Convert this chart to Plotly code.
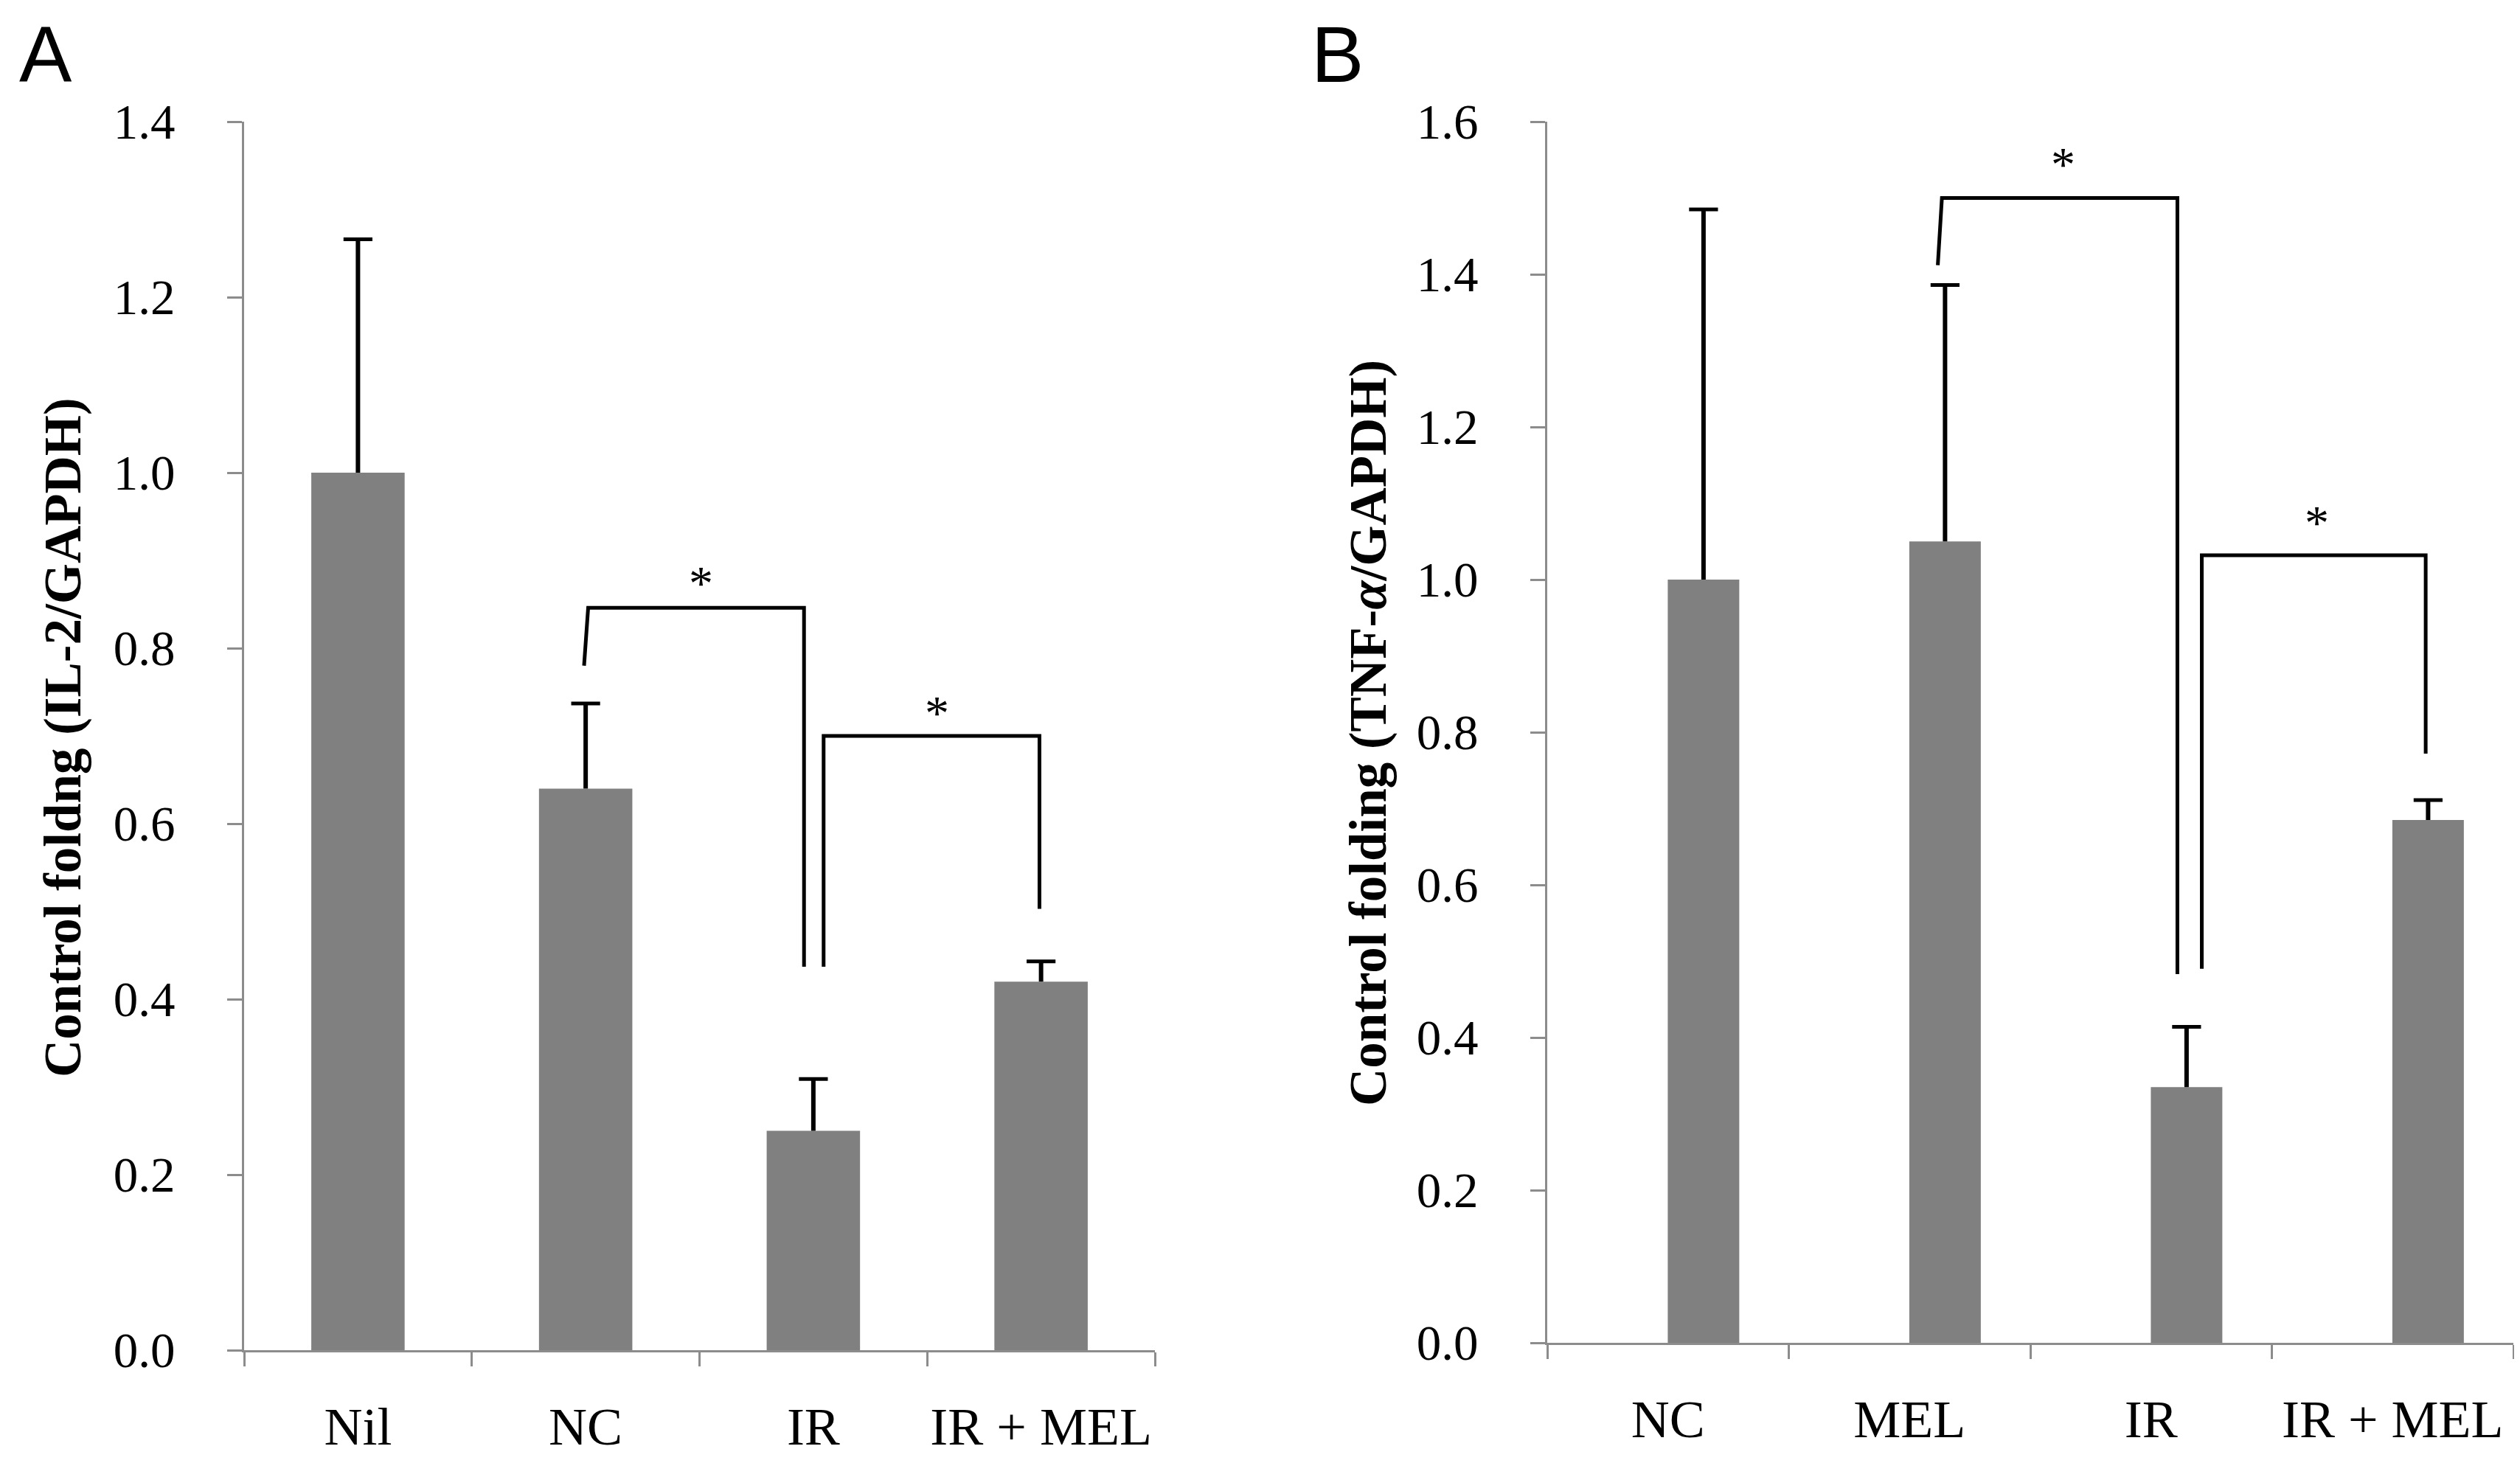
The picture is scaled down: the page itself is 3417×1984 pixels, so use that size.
import plotly.graph_objects as go

# panel A - IL-2
cats_a = ['Nil', 'NC', 'IR', 'IR + MEL']
vals_a = [1.0, 0.64, 0.25, 0.42]
err_a = [1.266, 0.737, 0.309, 0.443]      # top of error bar

# panel B - TNF-alpha
cats_b = ['NC', 'MEL', 'IR', 'IR + MEL']
vals_b = [1.0, 1.05, 0.335, 0.685]
err_b = [1.485, 1.386, 0.414, 0.711]

# significance brackets: (x left, x right, y left end, y top, y right end)
brackets_a = [(1.011, 1.959, 0.78, 0.846, 0.437),
              (2.045, 2.993, 0.437, 0.70, 0.503)]
brackets_b = [(1.134, 2.109, 1.412, 1.50, 0.483),
              (2.210, 3.137, 0.490, 1.032, 0.772)]
stars_a = [(1.506, 0.885), (2.543, 0.737)]
stars_b = [(1.637, 1.557), (2.687, 1.087)]

W, H = 3417, 1984
OFF = 8   # page body margin, positions below are measured on the screen
BAR = '#808080'
AXIS = '#8c8c8c'
SERIF = 'Liberation Serif'


def px(x):
    return (x - OFF) / W


def py(y):
    return 1 - (y - OFF) / H


fig = go.Figure()


def add_panel(fig, n, cats, vals, errs, brackets, stars, shift, width, slant):
    xa = 'x' if n == 1 else 'x%d' % n
    ya = 'y' if n == 1 else 'y%d' % n
    xs = [i + shift for i in range(len(cats))]

    fig.add_trace(go.Bar(x=xs, y=vals, width=width, marker_color=BAR,
                         marker_line_width=0, xaxis=xa, yaxis=ya,
                         showlegend=False, hoverinfo='skip'))

    # error bars, upper half only
    ex, ey = [], []
    for x, v, e in zip(xs, vals, errs):
        ex += [x, x, None]
        ey += [v, e, None]
    fig.add_trace(go.Scatter(x=ex, y=ey, mode='lines',
                             line=dict(color='black', width=6),
                             xaxis=xa, yaxis=ya, showlegend=False, hoverinfo='skip'))
    fig.add_trace(go.Scatter(x=xs, y=errs, mode='markers',
                             marker=dict(symbol='line-ew', size=28,
                                         line=dict(color='black', width=5)),
                             xaxis=xa, yaxis=ya, showlegend=False, hoverinfo='skip'))

    for k, (xl, xr, yl, yt, yr) in enumerate(brackets):
        s = slant if k == 0 else 0
        fig.add_trace(go.Scatter(x=[xl - s, xl, xr, xr], y=[yl, yt, yt, yr],
                                 mode='lines', line=dict(color='black', width=5),
                                 xaxis=xa, yaxis=ya, showlegend=False, hoverinfo='skip'))

    for sx, sy in stars:
        fig.add_annotation(x=sx, y=sy, xref=xa, yref=ya, text='*', showarrow=False,
                           font=dict(family=SERIF, size=66, color='black'),
                           yshift=-13)


add_panel(fig, 1, cats_a, vals_a, err_a, brackets_a, stars_a, 0.0, 0.41, 0.018)
add_panel(fig, 2, cats_b, vals_b, err_b, brackets_b, stars_b, 0.147, 0.296, 0.017)

xcommon = dict(range=[-0.5, 3.5], tickmode='array', tickvals=[0, 1, 2, 3],
               ticks='', showline=True, linecolor=AXIS, linewidth=3.3,
               showgrid=False, zeroline=False, ticklabelstandoff=38, automargin=False,
               tickfont=dict(family=SERIF, size=72, color='black'),
               minor=dict(tickmode='array', tickvals=[-0.5, 0.5, 1.5, 2.5, 3.5],
                          ticks='outside', ticklen=19, tickcolor=AXIS, tickwidth=2.5))
ycommon = dict(dtick=0.2, tick0=0, tickformat='.1f', ticks='outside', ticklen=20,
               tickcolor=AXIS, tickwidth=2.5, showline=True, linecolor=AXIS,
               linewidth=3.3, showgrid=False, zeroline=False, ticklabelstandoff=57,
               automargin=False, tickfont=dict(family=SERIF, size=67, color='black'))

fig.update_layout(
    width=W, height=H,
    margin=dict(l=0, r=0, t=0, b=0, pad=0, autoexpand=False),
    paper_bgcolor='white', plot_bgcolor='white',
    xaxis=dict(domain=[px(331), px(1566)], anchor='y', ticktext=cats_a, **xcommon),
    yaxis=dict(domain=[py(1831), py(165)], anchor='x', range=[0, 1.4], **ycommon),
    xaxis2=dict(domain=[px(2098), px(3408)], anchor='y2', ticktext=cats_b, **xcommon),
    yaxis2=dict(domain=[py(1821), py(165)], anchor='x2', range=[0, 1.6], **ycommon),
)

# y axis titles
fig.add_annotation(x=px(85), y=py(1000), xref='paper', yref='paper',
                   xanchor='center', yanchor='middle',
                   text='<b>Control foldng (IL-2/GAPDH)</b>', textangle=-90,
                   showarrow=False, font=dict(family=SERIF, size=71, color='black'))
fig.add_annotation(x=px(1855), y=py(994), xref='paper', yref='paper',
                   xanchor='center', yanchor='middle',
                   text='<b>Control folding (TNF-<i>α</i>/GAPDH)</b>', textangle=-90,
                   showarrow=False, font=dict(family=SERIF, size=71, color='black'))

# panel letters
for letter, x0 in [('A', 24), ('B', 1776)]:
    fig.add_annotation(x=px(x0), y=py(74), xref='paper', yref='paper',
                       xanchor='left', yanchor='middle', text=letter, showarrow=False,
                       font=dict(family='Liberation Sans', size=107, color='black'))

fig.write_html("out.html")
